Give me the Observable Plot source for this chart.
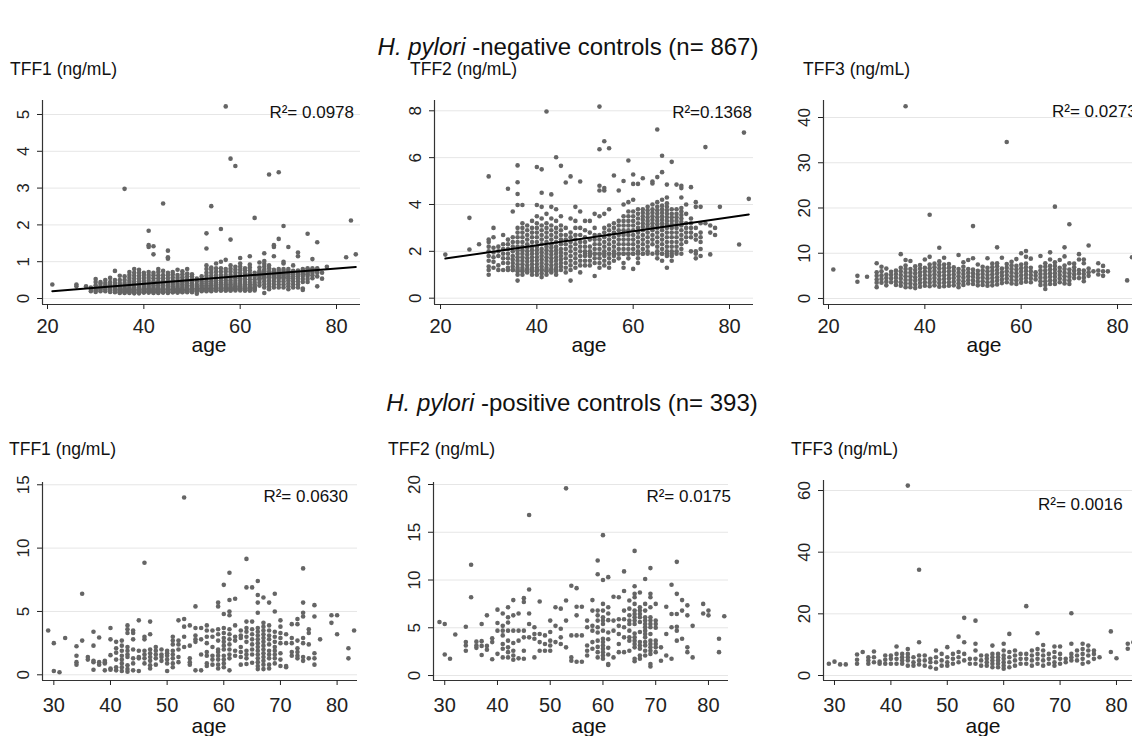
<!DOCTYPE html>
<html><head><meta charset="utf-8">
<script src="https://cdn.jsdelivr.net/npm/d3@7"></script>
<script src="https://cdn.jsdelivr.net/npm/@observablehq/plot@0.6"></script>
<style>
html,body{margin:0;padding:0;background:#fff;}
body{width:1132px;height:736px;position:relative;overflow:hidden;font-family:"Liberation Sans",Arial,Helvetica,sans-serif;color:#111;}
.t{position:absolute;white-space:nowrap;line-height:1;}
.p{position:absolute;}
</style></head><body>
<script>
// ---------- data ([age, [values...]]) ----------
const rowTitles = ["-negative controls (n= 867)", "-positive controls (n= 393)"];
const panelLabels = ["TFF1 (ng/mL)", "TFF2 (ng/mL)", "TFF3 (ng/mL)"];
const r2Labels = ["R\u00b2= 0.0978", "R\u00b2=0.1368", "R\u00b2= 0.0273", "R\u00b2= 0.0630", "R\u00b2= 0.0175", "R\u00b2= 0.0016"];
const topAgeTicks = [20, 40, 60, 80];
const bottomAgeTicks = [30, 40, 50, 60, 70, 80];
const yTicks = [[0,1,2,3,4,5],[0,2,4,6,8],[0,10,20,30,40],[0,5,10,15],[0,5,10,15,20],[0,20,40,60]];

const negTFF1 = [
[21,[.38]],[26,[.33,.38]],[28,[.33]],[29,[.2,.26,.3]],
[30,[.18,.22,.26,.3,.36,.45,.53]],[31,[.2,.24,.28,.33,.4,.45]],[32,[.2,.25,.3,.36,.42,.5]],
[33,[.18,.22,.27,.32,.38,.45,.56]],[34,[.17,.21,.25,.3,.35,.42,.5,.75]],
[35,[.15,.17,.19,.21,.23,.25,.27,.31,.36,.42,.5,.62]],[36,[.15,.17,.19,.21,.23,.25,.27,.31,.36,.42,.5,.6,2.98]],
[37,[.15,.17,.19,.21,.23,.25,.27,.31,.36,.42,.48,.56,.64,.72]],
[38,[.14,.17,.18,.21,.22,.25,.26,.3,.35,.4,.46,.54,.62,.7,.8]],
[39,[.14,.17,.18,.21,.22,.25,.26,.3,.35,.4,.46,.54,.62,.7,.78]],
[40,[.16,.17,.2,.21,.24,.25,.28,.32,.37,.42,.48,.56,.64,.7]],
[41,[.16,.17,.2,.21,.24,.25,.28,.32,.37,.42,.48,.56,.64,.72,1.4,1.45,1.84]],
[42,[.15,.17,.19,.21,.23,.25,.27,.31,.36,.41,.47,.55,.63,.7,1.2,1.42]],
[43,[.15,.17,.19,.21,.23,.25,.27,.31,.36,.41,.47,.55,.63,.72,.8]],
[44,[.16,.17,.2,.21,.24,.25,.28,.32,.37,.42,.48,.56,.64,.75,2.58]],
[45,[.15,.17,.19,.21,.23,.25,.27,.31,.36,.41,.47,.55,.63,.7,1.08,1.12,1.3]],
[46,[.17,.17,.21,.21,.25,.25,.29,.33,.38,.43,.49,.57,.65,.72]],
[47,[.16,.17,.2,.21,.24,.25,.28,.32,.37,.42,.48,.56,.64,.78]],
[48,[.17,.18,.21,.22,.25,.26,.3,.34,.39,.44,.5,.58,.66,.74]],
[49,[.17,.2,.21,.24,.25,.28,.32,.36,.41,.46,.52,.6,.68,.8]],
[50,[.17,.2,.21,.24,.25,.28,.32,.36,.41,.46,.52,.6,.66]],
[51,[.13,.2,.22,.24,.27,.28,.32,.38,.46,.54]],
[52,[.2,.22,.24,.27,.28,.32,.36,.41,.46,.52,.6]],
[53,[.2,.22,.24,.27,.28,.32,.36,.41,.47,.54,.62,.7,.8,.9,1.36,1.77]],
[54,[.2,.22,.24,.27,.28,.32,.36,.41,.47,.54,.62,.7,.78,.84,2.51]],
[55,[.22,.22,.26,.27,.3,.34,.38,.43,.49,.56,.64,.73,.82,.95]],
[56,[.22,.22,.26,.27,.3,.34,.38,.43,.49,.56,.64,.73,.82,1.0,1.89]],
[57,[.22,.22,.26,.27,.3,.34,.38,.43,.49,.56,.64,.73,.8,1.05,5.22]],
[58,[.22,.22,.26,.27,.3,.34,.38,.43,.49,.56,.64,.73,.81,.9,1.6,3.8]],
[59,[.22,.25,.27,.29,.33,.37,.42,.48,.55,.62,.7,.78,.86,3.6]],
[60,[.22,.25,.27,.29,.33,.37,.42,.48,.55,.62,.7,.78,.86,.95,1.1]],
[61,[.22,.22,.26,.27,.3,.34,.39,.45,.52,.6,.68,.76,.82]],
[62,[.22,.22,.26,.27,.3,.34,.39,.45,.52,.6,.68,.76,.84,.92,1.15]],
[63,[.22,.26,.27,.3,.34,.39,.45,.52,.6,.7,2.19]],[64,[.35,.43,.51,.55,.59,.63,.67,.71,.75,.84,.98]],
[65,[.15,.3,.38,.46,.54,.58,.62,.66,.7,.74,.78,.86,.94,1.02,1.23]],
[66,[.25,.33,.41,.49,.57,.61,.65,.69,.73,.82,.9,3.37]],
[67,[.3,.38,.46,.54,.58,.62,.66,.7,.74,.78,1.15,1.4,1.45]],
[68,[.3,.38,.46,.54,.58,.62,.66,.7,.75,.8,1.62,3.43]],
[69,[.3,.38,.46,.54,.58,.62,.66,.7,.75,.8,.95,1.0,1.97]],
[70,[.25,.33,.41,.49,.55,.6,.65,.7,.75,.8,1.4]],[71,[.3,.38,.46,.54,.6,.66,.7,.75,.9]],
[72,[.3,.38,.46,.54,.6,.64,.7,.76,1.15,1.25]],[73,[.23,.27,.45,.53,.61,.66,.7,.75,.8]],
[74,[.45,.53,.61,.66,.7,.74,.78,.82,1.76]],[75,[.55,.63,.7,.75,.78,.82,1.07]],
[76,[.33,.6,.7,.75,.78,.82,1.53]],
[77,[.54,.7]],[78,[.86]],[82,[1.12]],[83,[2.12]],[84,[1.2]]
];

const negTFF2 = [
[21,[1.86]],[26,[2.08,3.43]],[28,[2.3]],
[30,[1.0,1.2,1.35,1.6,1.8,2.0,2.2,2.4,2.5,5.2]],[31,[1.3,1.55,1.75,1.95,2.15,2.6,3.0]],
[32,[1.2,1.4,1.8,2.0,2.2]],[33,[1.2,1.5,1.7,1.9,2.1,2.3,2.7]],[34,[1.2,1.3,1.5,1.7,1.9,2.1,2.3,2.5,4.67]],
[35,[1.2,1.2,1.35,1.5,1.65,1.8,2.0,2.2,2.4,2.6,3.7]],
[36,[.75,1.0,1.15,1.2,1.3,1.45,1.6,1.75,1.9,2.05,2.2,2.4,2.6,2.8,3.0,3.98,4.45,4.95,5.67]],
[37,[1.0,1.15,1.2,1.3,1.45,1.6,1.75,1.9,2.05,2.2,2.4,2.6,2.8,3.0,3.2,3.98]],
[38,[1.1,1.2,1.25,1.4,1.55,1.7,1.85,2.0,2.15,2.3,2.5,2.7,2.9,3.1]],
[39,[1.0,1.15,1.2,1.3,1.45,1.6,1.75,1.9,2.05,2.2,2.4,2.6,2.8,3.0,3.3]],
[40,[1.0,1.15,1.2,1.3,1.45,1.6,1.75,1.9,2.05,2.2,2.4,2.6,2.8,3.0,3.2,3.5,3.98,5.6]],
[41,[.9,1.05,1.2,1.2,1.35,1.5,1.65,1.8,1.95,2.1,2.3,2.5,2.7,2.9,3.1,3.4,3.9,4.5,5.5]],
[42,[1.0,1.15,1.2,1.3,1.45,1.6,1.75,1.9,2.05,2.2,2.4,2.6,2.8,3.0,3.2,3.6,7.97]],
[43,[1.1,1.2,1.25,1.4,1.55,1.7,1.85,2.0,2.15,2.3,2.5,2.7,2.9,3.1,3.4,3.9,4.43]],
[44,[1.0,1.15,1.2,1.3,1.45,1.6,1.75,1.9,2.05,2.2,2.4,2.6,2.8,3.0,3.3,3.8,6.02]],
[45,[1.2,1.35,1.5,1.65,1.8,1.95,2.1,2.3,2.5,2.7,2.9,3.1,3.5,5.65]],
[46,[1.1,1.3,1.5,1.7,1.9,2.1,2.3,2.5,2.7,3.0,4.94]],
[47,[.75,1.2,1.4,1.6,1.8,2.0,2.2,2.4,2.6,2.8,3.4,5.2]],
[48,[1.3,1.5,1.7,1.9,2.1,2.3,2.5,2.7,3.0,3.3,3.9]],
[49,[1.1,1.4,1.6,1.8,2.0,2.2,2.4,2.7,3.0,3.7,4.98]],
[50,[1.4,1.6,1.8,1.9,2.0,2.2,2.4,2.6,2.9,3.3]],
[51,[1.4,1.6,1.8,1.9,2.0,2.2,2.5,2.8,3.3]],
[52,[.95,1.5,1.7,1.9,1.9,2.1,2.3,2.5,2.7,3.0,3.6]],
[53,[1.3,1.5,1.7,1.9,1.9,2.1,2.3,2.5,2.7,3.5,4.6,4.8,6.36,8.18]],
[54,[1.4,1.6,1.8,1.9,2.0,2.2,2.4,2.6,2.8,3.0,3.6,4.6,4.7,6.7]],
[55,[1.3,1.5,1.7,1.9,1.9,2.1,2.3,2.5,2.7,2.9,3.1,3.8,6.4]],
[56,[1.6,1.8,1.9,2.0,2.2,2.4,2.6,2.8,3.0,3.2,5.24]],
[57,[1.7,1.9,1.9,2.1,2.3,2.5,2.7,2.9,3.1,3.3,4.6]],
[58,[1.3,1.5,1.9,1.9,2.1,2.3,2.5,2.7,2.9,3.1,3.3,3.5,4.0,5.0]],
[59,[1.7,1.9,1.9,2.1,2.3,2.5,2.7,2.9,3.1,3.3,3.5,3.7,4.1,5.88]],
[60,[1.25,1.9,1.9,2.1,2.3,2.5,2.7,2.9,3.1,3.3,3.5,3.7,4.2,4.88,5.28]],
[61,[1.5,1.7,1.9,2.0,2.2,2.4,2.6,2.8,3.0,3.2,3.4,3.6,3.8,4.88]],
[62,[1.9,1.9,2.1,2.3,2.5,2.7,2.9,3.05,3.2,3.35,3.5,3.65,3.8,5.12]],
[63,[1.9,2.0,2.2,2.4,2.6,2.8,3.0,3.15,3.3,3.45,3.6,3.75,3.9]],
[64,[1.9,2.3,2.5,2.7,2.9,3.05,3.2,3.35,3.5,3.65,3.8,4.0,4.9,4.98]],
[65,[1.7,1.9,2.0,2.2,2.4,2.6,2.8,3.0,3.15,3.3,3.45,3.6,3.75,3.9,4.1,5.17,7.2]],
[66,[1.6,1.9,1.9,2.1,2.3,2.5,2.7,2.9,3.05,3.2,3.35,3.5,3.65,3.8,3.95,4.2,5.38,6.08]],
[67,[1.3,1.8,1.9,2.0,2.2,2.4,2.6,2.8,3.0,3.15,3.3,3.45,3.6,3.75,3.9,4.05,4.3,4.85]],
[68,[1.6,1.8,1.9,2.0,2.2,2.4,2.6,2.8,3.0,3.15,3.3,3.45,3.6,3.8,5.82]],
[69,[1.9,2.0,2.2,2.4,2.6,2.8,3.0,3.15,3.3,3.45,3.6,3.8,4.85]],
[70,[1.9,2.1,2.3,2.5,2.7,2.9,3.1,3.25,3.4,3.55,3.7,3.85,4.3,4.7,4.8]],
[71,[2.4,2.6,2.8,3.0,3.2,3.6,4.0]],[72,[2.0,2.6,2.8,3.0,3.2,3.4,4.74]],
[73,[1.7,1.9,2.0,2.5,2.7,3.0,3.9,4.1]],[74,[1.8,2.1,2.4,2.6,2.8,3.2,3.9]],
[75,[3.2,6.45]],[76,[1.87,2.8,3.1]],[77,[2.7,3.0]],
[78,[3.9]],[82,[2.29]],[83,[7.07]],[84,[4.24]]
];

const negTFF3 = [
[21,[6.4]],[26,[3.7,5.0]],[28,[4.8]],
[30,[2.5,3.5,4.2,5.0,5.8,7.8]],[31,[3.5,4.3,5.1,6.0,7.0]],[32,[2.9,3.7,4.5,5.3,6.6]],
[33,[3.6,4.4,5.2,5.9]],[34,[3.0,3.8,4.6,5.4,6.2]],[35,[2.8,3.6,4.4,5.2,6.0,6.8,9.8]],
[36,[2.5,3.3,4.1,4.9,5.7,6.5,7.3,8.5,42.5]],[37,[2.5,3.3,4.1,4.9,5.7,6.5,8.3]],
[38,[2.3,3.1,3.9,4.7,5.5,6.3,7.1]],[39,[2.6,3.4,4.2,5.0,5.8,6.6,7.4]],
[40,[2.8,3.6,4.4,5.2,6.0,6.8,8.6]],[41,[2.7,3.5,4.3,5.1,5.9,6.7,7.5,9.2,18.5]],
[42,[2.9,3.7,4.5,5.3,6.1,6.9,7.7]],[43,[2.6,3.4,4.2,5.0,5.8,6.6,7.4,8.2,11.2]],
[44,[2.7,3.5,4.3,5.1,5.9,6.7,7.5,9.0]],[45,[2.8,3.6,4.4,5.2,6.0,6.8,7.6]],
[46,[2.9,3.7,4.5,5.3,6.1,6.9]],[47,[2.5,3.3,4.1,4.9,5.7,6.5,9.6]],
[48,[3.0,3.8,4.6,5.4,6.2,7.0,8.0]],[49,[3.3,4.1,4.9,5.7,6.5,8.5]],
[50,[3.2,4.0,4.8,5.6,6.4,8.9,16.0]],[51,[2.9,3.7,4.5,5.3,6.1,7.5]],
[52,[3.0,3.8,4.6,5.4,6.2,7.0]],[53,[2.8,3.6,4.4,5.2,6.0,6.8,8.9]],
[54,[2.9,3.7,4.5,5.3,6.1,6.9,7.7]],[55,[3.1,3.9,4.7,5.5,6.3,7.1,7.8,11.3]],
[56,[3.4,4.2,5.0,5.8,6.6,9.0]],[57,[3.6,4.4,5.2,6.0,6.8,7.6,34.6]],
[58,[3.3,4.1,4.9,5.7,6.5,7.3,8.1]],[59,[3.2,4.0,4.8,5.6,6.4,7.2,8.7]],
[60,[3.5,4.3,5.1,5.9,6.7,7.5,10.0]],[61,[3.7,4.5,5.3,6.1,6.9,7.7,9.2,10.5]],
[62,[3.6,4.4,5.2,6.0,6.8,8.8]],[63,[4.2,5.0,5.8]],[64,[3.0,3.8,4.6,5.4,6.2,7.0,9.4]],
[65,[2.1,3.0,3.8,4.6,5.4,6.2,7.0,7.8]],[66,[3.2,4.0,4.8,5.6,6.4,7.2,8.6,10.2]],
[67,[3.2,4.0,4.8,5.6,6.4,7.2,8.0,20.3]],[68,[3.6,4.4,5.2,6.0,6.8,8.5]],
[69,[3.3,4.1,4.9,5.7,6.5,7.3,9.3,11.3]],[70,[3.2,4.0,4.8,5.6,6.4,7.8,16.4]],
[71,[4.5,5.3,6.1,6.9,7.7]],[72,[4.5,5.5,6.3,8.6,9.8]],[73,[3.8,4.6,5.4,6.2,7.8,8.6]],
[74,[5.0,5.8,6.6,11.7]],[75,[6.0]],[76,[5.3,6.2,7.8]],[77,[5.0,6.0,7.2]],[78,[6.0]],
[82,[4.0]],[83,[9.1]]
];

const posTFF1 = [
[29,[3.5]],[30,[.3,2.5]],[31,[.2]],[32,[2.9]],[34,[.8,1.0,1.5,2.25]],[35,[2.7,6.4]],
[36,[1.2,1.4]],[37,[.4,1.0,1.1,2.3,3.4]],[38,[.8,1.0,2.95]],[39,[.35,.9,1.0,1.1]],
[40,[.4,.5,1.55,2.8,3.7]],[41,[.35,.6,1.2,1.75,2.1,2.6]],[42,[.3,.6,.9,1.2,1.5,1.9,2.3,2.7]],
[43,[.25,.45,.75,1.4,1.6,1.9,2.2,3.3,3.6,3.9]],[44,[.35,.9,1.3,2.0,2.8,3.3,3.5]],
[45,[.3,1.3,1.4,1.9,4.3]],[46,[.9,1.3,1.6,1.9,2.8,3.0,8.85]],[47,[.5,.75,1.1,1.4,1.7,2.0,3.2,4.2]],
[48,[.8,1.3,1.6,1.9,2.2]],[49,[1.1,1.4,1.6,2.0]],[50,[.3,.9,1.2,1.5,1.7,1.9]],
[51,[.6,.9,1.3,1.6,1.9,2.4,2.7,3.0]],[52,[1.0,1.4,2.0,2.4,2.7,4.3]],[53,[2.2,3.0,3.8,4.4,14.0]],
[54,[.8,1.0,1.3,2.3,3.9]],[55,[.35,2.6,2.8,3.1,3.7,5.4]],[56,[.35,1.6,2.8,3.7]],
[57,[.7,.9,1.5,1.8,2.5,3.0,3.5,3.9]],[58,[.8,1.2,1.5,2.2,3.0,3.5]],
[59,[.5,.8,1.2,1.5,1.8,2.0,2.7,3.2,3.6,5.4,5.7]],[60,[.6,.9,1.2,1.5,2.0,2.3,2.6,2.9,3.3,3.7,4.8,7.1]],
[61,[.35,1.3,1.6,2.0,2.4,2.8,3.2,3.6,4.7,5.0,5.9,8.05]],[62,[1.5,1.9,2.7,3.0,3.9,6.0]],
[63,[.8,1.4,1.8,2.2,2.9,3.1,3.5]],[64,[.85,1.3,1.6,1.9,2.6,3.0,3.4,3.7,4.2,6.9,9.15]],
[65,[.95,1.6,2.0,2.4,2.8,3.2,3.6,4.2,6.9]],
[66,[.45,.7,1.0,1.3,1.6,1.9,2.2,2.5,2.8,3.1,3.4,3.7,4.9,5.7,6.3,7.4]],
[67,[.45,.8,1.1,1.4,1.7,2.0,2.3,2.6,2.9,3.2,3.5,3.8,4.1,6.1]],
[68,[.5,.8,1.3,1.6,1.9,2.4,2.8,3.1,3.5,3.9,5.7]],[69,[.9,1.3,1.6,1.9,2.2,2.6,3.0,3.4,5.0,6.4]],
[70,[.7,1.2,1.7,2.5,2.9,3.3,3.8,4.3]],[71,[.6,.7,2.5,3.2]],[72,[1.5,1.8,2.5,2.9,4.0]],
[73,[1.3,1.5,1.8,2.1,2.7,4.0,4.4]],[74,[1.1,1.4,2.5,2.9,4.6,4.9,5.7,8.4]],[75,[1.3,2.4,3.3,3.6]],
[76,[.8,1.3,1.7,4.6,5.5]],[77,[2.8]],[79,[4.1,4.7]],[80,[3.2,4.7]],[82,[1.3,2.1]],[83,[3.5]]
];

const posTFF2 = [
[29,[5.6]],[30,[2.2,5.4]],[31,[1.75]],[32,[4.3]],[34,[2.6,3.15,3.5,5.1]],[35,[8.2,11.6]],
[36,[2.9,3.15,3.55]],[37,[2.15,3.1,3.6,5.4]],[38,[2.7,3.1,6.3]],[39,[1.7,3.5,3.9]],
[40,[2.27,4.7,5.5,6.9]],[41,[1.9,2.8,3.3,4.2,4.7,5.2,6.5]],[42,[1.9,2.45,2.95,3.65,4.7,5.55,6.1,7.15]],
[43,[1.65,2.1,2.6,3.4,4.7,6.3,7.9]],[44,[1.8,3.65,4.7,6.5]],[45,[1.75,2.6,4.0,4.7,7.7,8.1]],
[46,[4.0,5.4,6.5,9.0,16.8]],[47,[1.9,3.85,4.35,5.05]],[48,[2.6,3.5,4.35,7.75]],[49,[2.6,3.3,4.2]],
[50,[2.6,3.15,3.65,4.55,5.75]],[51,[3.5,5.2,7.15]],[52,[3.3,4.0,4.9,7.0]],[53,[2.95,5.75,7.85,19.6]],
[54,[1.55,1.9,4.2,9.4]],[55,[1.45,4.2,6.3,7.2,9.15]],[56,[1.45,4.2,7.2]],[57,[2.1,2.6,3.15,5.05,5.75]],
[58,[2.8,3.5,4.7,5.2,6.8,7.9]],[59,[1.9,2.45,3.0,3.65,4.5,5.05,5.75,6.3,6.8,10.6,12.05]],
[60,[1.75,2.1,2.45,2.8,3.15,3.5,3.85,4.7,5.4,5.75,6.1,6.8,7.5,10.0,14.7]],
[61,[1.1,1.2,2.2,2.9,3.8,4.5,5.8,6.5,7.15,10.3]],[62,[1.9,4.7,5.75,8.25]],
[63,[2.45,3.3,4.35,5.2,5.9,8.2]],[64,[2.45,4.0,5.05,5.9,6.8,8.85,10.9]],
[65,[2.6,3.65,4.0,4.7,5.4,5.75,6.3,7.0,7.85]],
[66,[1.5,1.75,2.95,3.3,3.65,4.0,4.4,5.4,5.75,6.1,6.45,6.8,7.5,8.2,8.55,9.35,13.05]],
[67,[1.75,2.1,2.8,3.15,3.5,4.55,5.6,6.1,6.45,6.8,7.15,8.7]],
[68,[2.1,2.6,3.15,3.5,4.0,4.35,4.7,5.05,5.4,5.75,6.1,6.8,7.5,10.1]],
[69,[.95,1.2,2.25,2.6,2.95,3.3,3.65,4.35,5.05,5.4,5.75,6.1,7.15,8.2,8.55,11.25]],
[70,[2.45,2.95,3.3,3.65,5.0,5.4,5.75,7.5]],[71,[1.55,2.95]],[72,[2.1,4.35,7.2]],
[73,[1.75,5.05,6.45,9.5]],[74,[3.65,4.7,5.1,6.45,8.55,11.9]],[75,[3.85,6.8,7.9]],
[76,[2.45,2.95,6.3,7.35]],[77,[1.9,5.2]],[79,[6.5,7.5]],[80,[6.3,6.8]],[82,[2.45,3.85]],[83,[6.2]]
];

const posTFF3 = [
[29,[3.8]],[30,[4.5]],[31,[3.6]],[32,[3.6]],[34,[3.8,5.1,6.8]],[35,[7.6]],[36,[3.8,4.9,5.9]],
[37,[4.3,5.9,7.8]],[38,[3.8,4.5]],[39,[3.8,5.1,6.5]],[40,[3.8,5.4,6.5]],[41,[3.8,5.4,7.0,9.4]],
[42,[3.8,4.9,5.9,7.0]],[43,[3.2,4.9,5.9,7.0,8.6,61.6]],[44,[3.2,4.3,5.9]],
[45,[3.6,4.9,6.5,10.8,34.3]],[46,[3.2,4.9,6.5]],[47,[2.7,4.3,5.4]],[48,[2.2,4.3,5.9,8.1]],
[49,[3.2,4.9,7.0]],[50,[3.2,4.3,5.9,9.2]],[51,[3.8,5.4,7.0]],[52,[4.3,5.9,7.6,12.6]],
[53,[4.9,7.0,10.8,18.7]],[54,[3.8,5.4]],[55,[3.8,5.4,8.1,10.3,17.8]],[56,[3.2,4.9,6.5]],
[57,[3.2,4.3,5.4,6.5]],[58,[2.7,3.8,4.9,5.9,7.0,9.7]],[59,[2.7,3.8,4.9,5.9,7.0]],
[60,[2.2,3.2,4.3,5.4,6.5,8.1,10.3]],[61,[2.7,4.3,5.9,7.6,13.5]],[62,[3.2,4.9,6.5,8.1]],
[63,[3.8,5.4,7.0]],[64,[3.8,5.4,7.0,22.5]],[65,[3.2,4.9,6.5,8.1]],[66,[3.8,5.4,7.0,8.6,13.7]],
[67,[3.2,4.9,6.5,8.1,9.9]],[68,[3.8,5.4,7.0]],[69,[3.2,4.3,5.9,7.6,9.4]],[70,[3.8,5.4,7.0,9.4]],
[71,[4.3,5.4]],[72,[4.9,5.9,7.0,10.3,20.2]],[73,[4.9,6.5,8.1]],[74,[3.8,5.4,7.0,8.6,10.3]],
[75,[4.3,6.5,8.1,9.7]],[76,[5.4,7.0,8.1]],[77,[5.9]],[79,[7.6,14.3]],[80,[5.6]],
[82,[8.7,10.3]],[83,[10.8]]
];

// ---------- layout ----------
const FONT = '"Liberation Sans", Arial, Helvetica, sans-serif';
const panels = [
  {data:negTFF1, L:0,   T:90,  W:370, H:280, m:[10,10,66,42], x:[18.96,84.98], y:[-0.163,5.38], xt:topAgeTicks, reg:true,  xpad:9},
  {data:negTFF2, L:380, T:90,  W:380, H:280, m:[10,7,66,54],  x:[18.75,84.98], y:[-0.27,8.44],  xt:topAgeTicks, reg:true,  xpad:9},
  {data:negTFF3, L:760, T:90,  W:372, H:280, m:[10,0,66,63],  x:[18.96,83.11], y:[-1.33,43.76], xt:topAgeTicks, reg:false, xpad:9},
  {data:posTFF1, L:0,   T:470, W:370, H:266, m:[12,13,56,42], x:[28.0,83.6],   y:[-0.45,15.18], xt:bottomAgeTicks, reg:false, xpad:12},
  {data:posTFF2, L:380, T:470, W:380, H:266, m:[12,32,56,53], x:[27.87,83.8],  y:[-0.52,20.21], xt:bottomAgeTicks, reg:false, xpad:12},
  {data:posTFF3, L:760, T:470, W:372, H:266, m:[10,0,56,63],  x:[28.05,82.84], y:[-1.62,63.25], xt:bottomAgeTicks, reg:false, xpad:12}
];

panels.forEach((p, i) => {
  const pts = p.data.flatMap(([a, vs]) => vs.map(v => ({age: a, v})));
  const marks = [
    Plot.gridY(yTicks[i], {stroke: "#e6e6e6", strokeOpacity: 1, strokeWidth: 1}),
    Plot.dot(pts, {x: "age", y: "v", r: 2.3, fill: "#656565", stroke: "none"})
  ];
  if (p.reg) marks.push(Plot.linearRegressionY(pts, {x: "age", y: "v", stroke: "#000", strokeWidth: 2, ci: 0}));
  marks.push(
    Plot.ruleX([p.x[0]], {stroke: "#333", strokeWidth: 1.2}),
    Plot.ruleY([p.y[0]], {stroke: "#333", strokeWidth: 1.2}),
    Plot.axisX({ticks: p.xt, tickSize: 5, tickPadding: p.xpad, fontSize: 20, label: null, tickFormat: d => String(d)}),
    Plot.axisY({ticks: yTicks[i], tickSize: 5, tickPadding: 9, tickRotate: -90, fontSize: 17, label: null, tickFormat: d => String(d)})
  );
  const svg = Plot.plot({
    width: p.W, height: p.H,
    marginTop: p.m[0], marginRight: p.m[1], marginBottom: p.m[2], marginLeft: p.m[3],
    x: {domain: p.x}, y: {domain: p.y},
    style: {fontFamily: FONT, color: "#222", background: "transparent", overflow: "visible"},
    marks
  });
  const div = document.createElement("div");
  div.className = "p";
  Object.assign(div.style, {left: p.L + "px", top: p.T + "px", width: p.W + "px", height: p.H + "px"});
  svg.style.maxWidth = "none";
  div.appendChild(svg);
  document.body.appendChild(div);
});

// ---------- texts ----------
function text(html, opts) {
  const d = document.createElement("div");
  d.className = "t";
  d.innerHTML = html;
  Object.assign(d.style, opts);
  document.body.appendChild(d);
  return d;
}
// row titles
[[568, 37.4], [572, 393.1]].forEach(([cx, top], r) => {
  text("<i>H. pylori</i> " + rowTitles[r], {left: cx + "px", top: top + "px", fontSize: "24px", lineHeight: "0.85", transform: "translateX(-50%)"});
});
// panel labels
[[10, 62.4], [410, 62.4], [803, 62.4], [9, 442.4], [388, 442.4], [791, 442.4]].forEach(([x, top], i) => {
  text(panelLabels[i % 3], {left: x + "px", top: top + "px", fontSize: "17.5px", lineHeight: "0.9"});
});
// R² labels
const r2Pos = [
  {right: 1132 - 354, top: 103.6}, {right: 1132 - 752, top: 103.6}, {left: 1052, top: 102.6},
  {right: 1132 - 348, top: 487.6}, {right: 1132 - 731, top: 487.6}, {left: 1038, top: 495.6}
];
r2Pos.forEach((q, i) => {
  const o = {top: q.top + "px", fontSize: "17px"};
  if (q.left !== undefined) o.left = q.left + "px"; else o.right = q.right + "px";
  text(r2Labels[i], o);
});
// x-axis titles
[[209, 334.2], [589, 334.2], [984, 334.2], [209, 714.8], [589, 714.8], [983, 714.8]].forEach(([cx, top]) => {
  text("age", {left: cx + "px", top: top + "px", fontSize: "21px", transform: "translateX(-50%)"});
});
</script>
</body></html>
